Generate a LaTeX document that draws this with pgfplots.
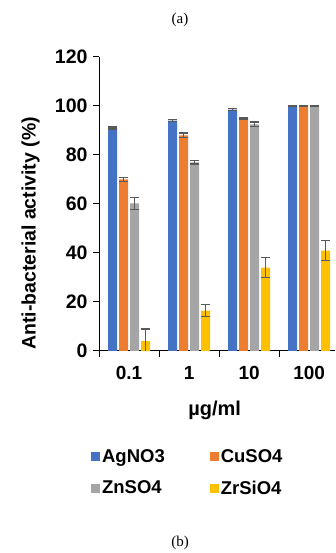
\documentclass[border=0pt]{standalone}
\usepackage{fontspec}
\setmainfont{Liberation Sans}
\newfontfamily\seriffont{Liberation Serif}
\usepackage{pgfplots}
\pgfplotsset{compat=1.18}
\definecolor{cA}{HTML}{4472C4}
\definecolor{cB}{HTML}{ED7D31}
\definecolor{cC}{HTML}{A5A5A5}
\definecolor{cD}{HTML}{FFC000}
\definecolor{errc}{HTML}{595959}
\pgfplotsset{sqlegend/.style={legend image code/.code={\fill[##1] (0pt,-4.5pt) rectangle (9pt,4.5pt);}}}
\begin{document}
\begin{tikzpicture}[x=1pt,y=1pt]
\path[use as bounding box] (0,0) rectangle (335,553);
\node[font=\seriffont\fontsize{15}{17}\selectfont] at (180,533) {(a)};
\node[font=\seriffont\fontsize{15}{17}\selectfont] at (180,10) {(b)};
\begin{axis}[
  at={(99pt,202pt)}, anchor=south west,
  width=236pt, height=294pt, scale only axis,
  xmin=-0.5, xmax=3.43, ymin=0, ymax=120,
  axis x line*=bottom, axis y line*=left,
  axis line style={line width=1pt, black},
  ytick={0,20,...,120},
  xtick={0,1,2,3}, xticklabels={0.1,1,10,100},
  minor xtick={-0.5,0.5,1.5,2.5},
  major x tick style={draw=none},
  tick style={line width=1pt, black},
  tick align=outside,
  major tick length=6pt, minor tick length=6pt,
  /pgf/number format/assume math mode=true,
  yticklabel style={font=\bfseries\fontsize{19.5}{22}\selectfont, xshift=-2pt},
  xticklabel style={font=\bfseries\fontsize{19}{22}\selectfont, yshift=-6pt},
  ylabel={Anti-bacterial activity (\%)},
  ylabel style={at={(axis description cs:-0.29,0.40)}, anchor=center, font=\bfseries\fontsize{19.5}{22}\selectfont},
  xlabel={µg/ml},
  xlabel style={at={(axis description cs:0.49,-0.201)}, anchor=center, font=\bfseries\fontsize{20}{23}\selectfont},
  ybar=2pt, bar width=9pt,
  error bars/error bar style={line width=1.2pt, draw=errc},
  error bars/error mark options={rotate=90, mark size=4.5pt, line width=1.2pt, draw=errc},
  legend columns=2,
  legend style={draw=none, at={(axis description cs:-0.047,-0.32)}, anchor=north west,
    font=\bfseries\fontsize{18.5}{21}\selectfont,
    /tikz/every even column/.append style={column sep=43pt}, row sep=13pt},
  legend cell align=left,
]
\addplot[fill=cA, draw=none, sqlegend, error bars/.cd, y dir=both, y explicit] coordinates {
 (0,91) +- (0,0.4) (1,94) +- (0,0.4) (2,98.5) +- (0,0.4) (3,100) +- (0,0.3)};
\addplot[fill=cB, draw=none, sqlegend, error bars/.cd, y dir=both, y explicit] coordinates {
 (0,70) +- (0,0.7) (1,88) +- (0,1) (2,95) +- (0,0.3) (3,100) +- (0,0.3)};
\addplot[fill=cC, draw=none, sqlegend, error bars/.cd, y dir=both, y explicit] coordinates {
 (0,60.3) +- (0,2.4) (1,77) +- (0,0.7) (2,92.5) +- (0,1) (3,100) +- (0,0.3)};
\addplot[fill=cD, draw=none, sqlegend, error bars/.cd, y dir=both, y explicit] coordinates {
 (0,4) +- (0,5) (1,16.5) +- (0,2.5) (2,34) +- (0,4) (3,41) +- (0,4)};
\legend{AgNO3,CuSO4,ZnSO4,ZrSiO4}
\end{axis}
\end{tikzpicture}
\end{document}
